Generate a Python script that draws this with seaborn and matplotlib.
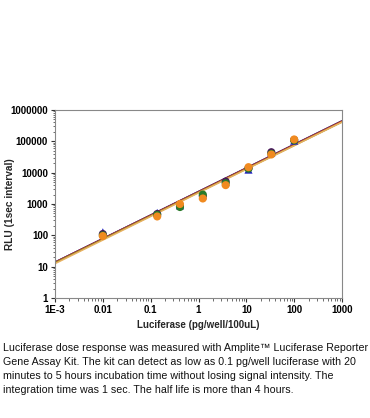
import numpy as np
import pandas as pd
import seaborn as sns
import matplotlib.pyplot as plt

sns.set_style('white')
plt.rcParams['font.family'] = ['Liberation Sans', 'DejaVu Sans']

# luciferase amount (pg/well/100uL), 3-fold dilutions
conc = [0.01, 0.137, 0.41, 1.23, 3.7, 11.1, 33.3, 100]

# RLU readings per replicate series
rlu_blue = [125, 520, 900, 1900, 5000, 12500, 44000, 105000]
rlu_purple = [110, 480, 850, 1800, 5200, 14000, 45000, 110000]
rlu_green = [100, 450, 800, 2000, 4600, 13500, 40000, 108000]
rlu_orange = [95, 400, 1000, 1500, 4000, 15000, 38000, 115000]

# fitted power-law lines: log10(y) = slope*log10(x) + intercept
fit_slope = [0.752, 0.750, 0.751, 0.749, 0.753]
fit_icpt = [3.40, 3.395, 3.39, 3.37, 3.355]
fit_colors = ['#1a3a8c', '#6a1a6a', '#c0302a', '#8c8c20', '#e8b060']

series = ['blue', 'purple', 'green', 'orange']
series_colors = ['#2020c0', '#4a1a5a', '#2a7a2a', '#f08a20']
series_markers = ['^', 'o', 'o', 'o']

caption = [
    "Luciferase dose response was measured with Amplite\u2122 Luciferase Reporter",
    "Gene Assay Kit. The kit can detect as low as 0.1 pg/well luciferase with 20",
    "minutes to 5 hours incubation time without losing signal intensity. The",
    "integration time was 1 sec. The half life is more than 4 hours.",
]

rows = []
for name, vals in zip(series, [rlu_blue, rlu_purple, rlu_green, rlu_orange]):
    for c, v in zip(conc, vals):
        rows.append({'conc': c, 'rlu': v, 'series': name})
df = pd.DataFrame(rows)

fig = plt.figure(figsize=(3.7, 4.18), dpi=100)
ax = fig.add_axes([55 / 370, 1 - 298 / 418, 287 / 370, 188 / 418])

xfit = np.logspace(-3, 3, 50)
for s, b, col in zip(fit_slope, fit_icpt, fit_colors):
    fit_df = pd.DataFrame({'x': xfit, 'y': 10 ** (s * np.log10(xfit) + b)})
    sns.lineplot(data=fit_df, x='x', y='y', color=col, lw=1.1, ax=ax)

sns.scatterplot(data=df, x='conc', y='rlu', hue='series', style='series',
                palette=dict(zip(series, series_colors)),
                markers=dict(zip(series, series_markers)),
                s=34, edgecolor='none', legend=False, ax=ax, zorder=3)

ax.set_xscale('log')
ax.set_yscale('log')
ax.set_xlim(1e-3, 1000)
ax.set_ylim(1, 1e6)
ax.set_xticks([1e-3, 1e-2, 1e-1, 1, 10, 100, 1000])
ax.set_xticklabels(['1E-3', '0.01', '0.1', '1', '10', '100', '1000'])
ax.set_yticks([10 ** i for i in range(7)])
ax.set_yticklabels([str(10 ** i) for i in range(7)])
ax.tick_params(which='major', direction='out', length=3, width=0.8, colors='#333333',
               bottom=True, left=True, pad=2)
ax.tick_params(which='minor', direction='out', length=1.8, width=0.6, colors='#555555',
               bottom=True, left=True)
for lab in ax.get_xticklabels() + ax.get_yticklabels():
    lab.set_fontweight('bold')
    lab.set_fontsize(7)
    lab.set_color('black')
for sp in ax.spines.values():
    sp.set_color('#888888')
    sp.set_linewidth(0.8)

ax.set_xlabel('Luciferase (pg/well/100uL)', fontsize=7, fontweight='bold', labelpad=4)
ax.set_ylabel('RLU (1sec interval)', fontsize=7.3, fontweight='bold')
ax.yaxis.set_label_coords(-40 / 287, 0.5)

for i, line in enumerate(caption):
    fig.text(3 / 370, 1 - (348 + i * 14) / 418, line, fontsize=7.65,
             ha='left', va='center', color='#111111')

fig.savefig('out.png', dpi=100)
